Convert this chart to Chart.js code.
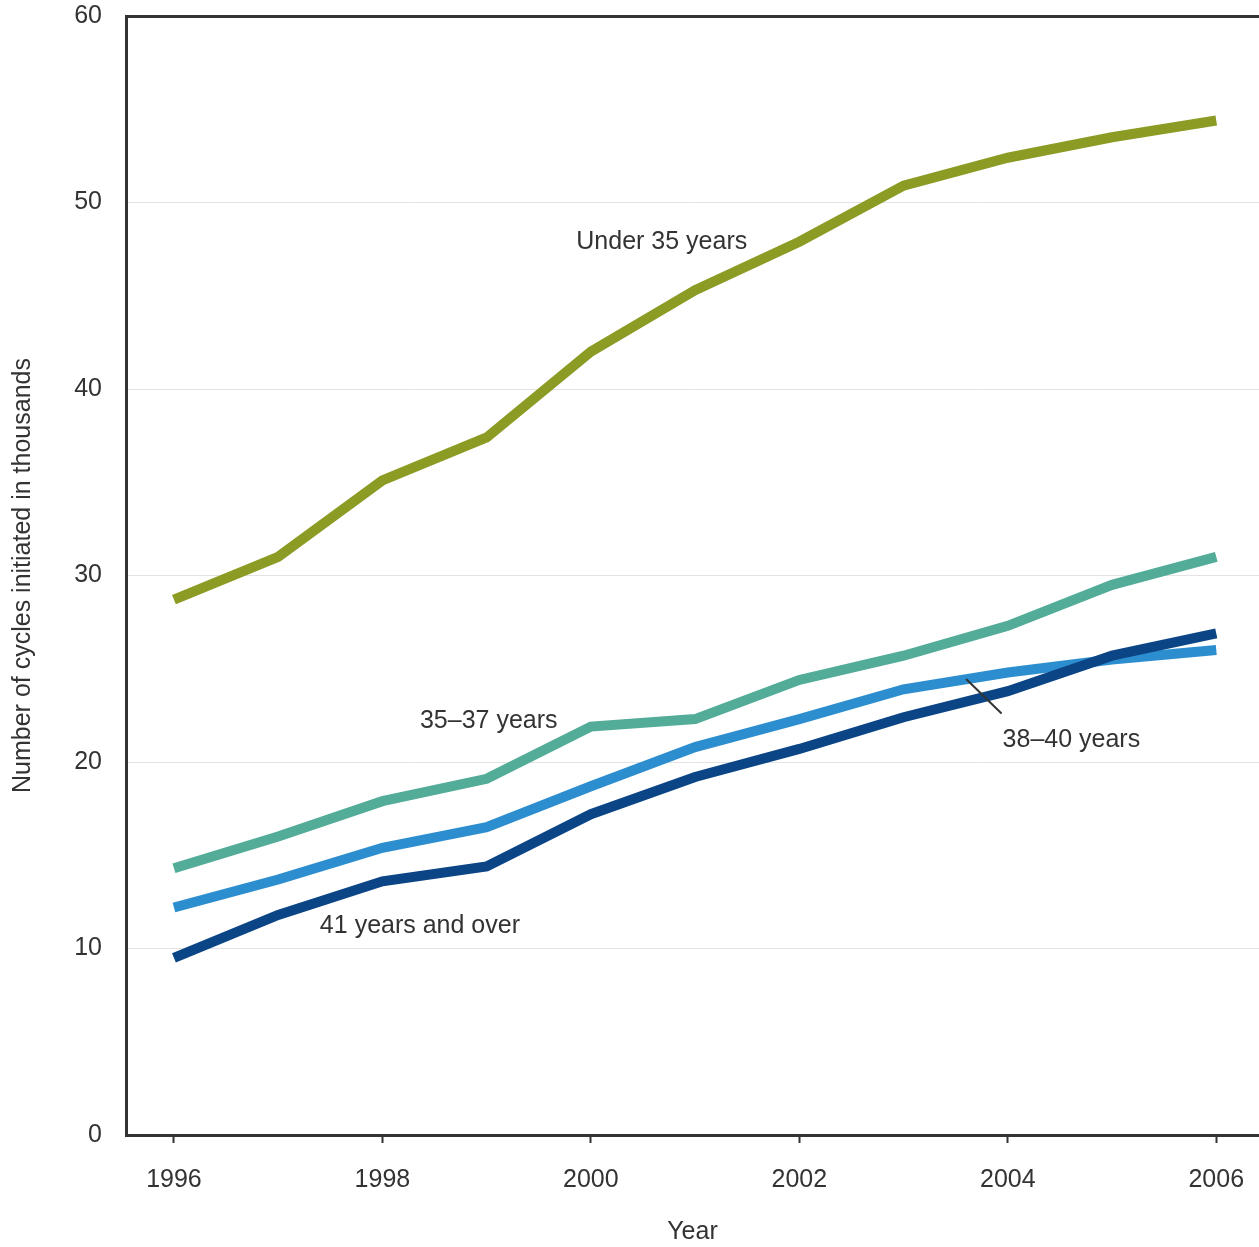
<!DOCTYPE html>
<html>
<head>
<meta charset="utf-8">
<script src="https://cdn.jsdelivr.net/npm/chart.js@4.4.1/dist/chart.umd.min.js"></script>
<style>
  html, body { margin: 0; padding: 0; background: #fff; }
  #wrap { width: 1259px; height: 1247px; }
</style>
</head>
<body>
<div id="wrap"><canvas id="myChart"></canvas></div>
<script>
const years = [1996, 1997, 1998, 1999, 2000, 2001, 2002, 2003, 2004, 2005, 2006];
const year_ticks = [1996, 1998, 2000, 2002, 2004, 2006];
const y_ticks = [0, 10, 20, 30, 40, 50, 60];

const under35 = [28.7, 31.0, 35.1, 37.4, 42.0, 45.3, 47.9, 50.9, 52.4, 53.5, 54.4];
const age35_37 = [14.3, 16.0, 17.9, 19.1, 21.9, 22.3, 24.4, 25.7, 27.3, 29.5, 31.0];
const age38_40 = [12.2, 13.7, 15.4, 16.5, 18.7, 20.8, 22.3, 23.9, 24.8, 25.5, 26.0];
const age41_over = [9.5, 11.8, 13.6, 14.4, 17.2, 19.2, 20.7, 22.4, 23.8, 25.7, 26.9];

// text labels placed in data units (year, thousands)
const labels_text = ["Under 35 years", "35\u201337 years", "38\u201340 years", "41 years and over"];
const labels_x = [2000.68, 1999.02, 2004.61, 1998.36];
const labels_y = [47.9, 22.2, 21.2, 11.2];
// leader line for 38-40 years
const leader_x = [2003.6, 2003.94];
const leader_y = [24.45, 22.6];

const font_family = "'Liberation Sans', Arial, sans-serif";
const text_color = "#333333";

function toPoints(vals) {
  return years.map((y, i) => ({ x: y, y: vals[i] }));
}

function makeSet(label, color, vals, order) {
  return {
    label: label,
    data: toPoints(vals),
    borderColor: color,
    backgroundColor: color,
    borderWidth: 10,
    borderCapStyle: "butt",
    pointRadius: 0,
    tension: 0,
    order: order,
  };
}

// no extra room for the edge tick labels, the layout padding handles it
function noEdgePadding(axis) {
  axis.paddingTop = 0;
  axis.paddingBottom = 0;
  axis.paddingLeft = 0;
  axis.paddingRight = 0;
}

const annotate = {
  id: "annotate",
  afterDatasetsDraw(chart) {
    const ctx = chart.ctx;
    const xs = chart.scales.x;
    const ys = chart.scales.y;
    ctx.save();
    ctx.font = "25px " + font_family;
    ctx.fillStyle = text_color;
    ctx.textAlign = "center";
    ctx.textBaseline = "middle";
    labels_text.forEach((t, i) => {
      ctx.fillText(t, xs.getPixelForValue(labels_x[i]), ys.getPixelForValue(labels_y[i]));
    });
    ctx.strokeStyle = text_color;
    ctx.lineWidth = 2;
    ctx.beginPath();
    ctx.moveTo(xs.getPixelForValue(leader_x[0]), ys.getPixelForValue(leader_y[0]));
    ctx.lineTo(xs.getPixelForValue(leader_x[1]), ys.getPixelForValue(leader_y[1]));
    ctx.stroke();
    ctx.restore();
  },
};

const config = {
  type: "line",
  data: {
    datasets: [
      makeSet("Under 35 years", "#8b9b23", under35, 4),
      makeSet("35\u201337 years", "#52ac98", age35_37, 3),
      makeSet("38\u201340 years", "#2d8ecf", age38_40, 2),
      makeSet("41 years and over", "#0b4585", age41_over, 1),
    ],
  },
  options: {
    responsive: true,
    maintainAspectRatio: false,
    animation: false,
    layout: { padding: { top: 16, left: 0, right: 0, bottom: 0 } },
    plugins: {
      legend: { display: false },
      tooltip: { enabled: false },
    },
    scales: {
      x: {
        type: "linear",
        min: 1995.54,
        max: 2006.41,
        afterBuildTicks: (axis) => {
          axis.ticks = year_ticks.map((v) => ({ value: v }));
        },
        afterFit: (axis) => {
          axis.height = 112;
          noEdgePadding(axis);
        },
        border: { display: true, color: "#333333", width: 3 },
        grid: {
          drawOnChartArea: false,
          drawTicks: true,
          tickLength: 8,
          tickWidth: 2,
          tickColor: "#333333",
        },
        ticks: {
          color: text_color,
          font: { size: 25, family: font_family },
          padding: 22,
          callback: (v) => String(v),
          maxRotation: 0,
        },
        title: {
          display: true,
          text: "Year",
          color: text_color,
          font: { size: 25, family: font_family },
          padding: { top: 0, bottom: 0 },
        },
      },
      y: {
        min: 0,
        max: 60,
        afterBuildTicks: (axis) => {
          axis.ticks = y_ticks.map((v) => ({ value: v }));
        },
        afterFit: (axis) => {
          axis.width = 126;
          noEdgePadding(axis);
        },
        border: { display: true, color: "#333333", width: 3 },
        grid: {
          drawTicks: false,
          color: (c) => (c.tick && c.tick.value === 60 ? "#333333" : "#e3e3e3"),
          lineWidth: (c) => (c.tick && c.tick.value === 60 ? 3 : 1),
        },
        ticks: {
          color: text_color,
          font: { size: 25, family: font_family },
          padding: 24,
        },
        title: {
          display: true,
          text: "Number of cycles initiated in thousands",
          color: text_color,
          font: { size: 25, family: font_family },
          padding: { top: 8, bottom: 0 },
        },
      },
    },
  },
  plugins: [annotate],
};

var myChart = new Chart(document.getElementById("myChart"), config);
</script>
</body>
</html>
